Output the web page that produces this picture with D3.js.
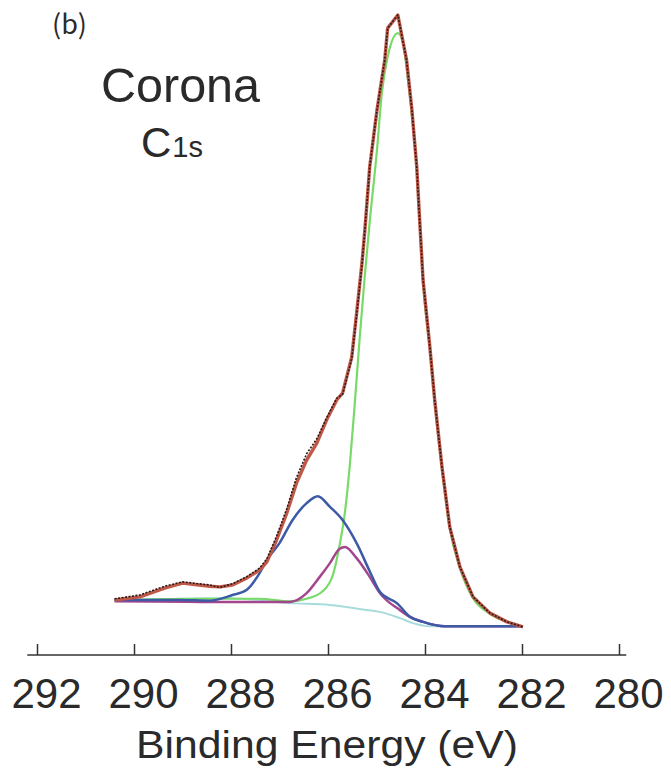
<!DOCTYPE html>
<html lang="en">
	<head>
		<meta charset="utf-8">
		<title>Corona C1s</title>
		<script src="https://d3js.org/d3.v7.min.js"></script>
		<style>
			body { margin: 0; background: #fff; }
			text { font-family: "Liberation Sans", Arial, sans-serif; fill: #2a2a2a; }
		</style>
	</head>

	<body>

		<script>

// data (binding energy in eV, intensity in arbitrary units)

	var envE = [290.40, 289.88, 289.37, 289.00, 288.44, 288.23, 287.97, 287.68, 287.41, 287.26,
	            287.06, 286.85, 286.65, 286.44, 286.23, 286.03, 285.82, 285.70, 285.51, 285.41,
	            285.30, 285.24, 285.14, 284.99, 284.83, 284.77, 284.56, 284.38, 284.27, 284.17,
	            284.11, 284.04, 283.90, 283.80, 283.65, 283.49, 283.28, 283.01, 282.66, 282.31, 281.98];
	var envI = [64, 69, 83, 91, 86, 85, 88, 99, 112, 125,
	            160, 203, 251, 288, 315, 352, 384, 395, 453, 523,
	            603, 656, 757, 848, 928, 979, 1000, 928, 848, 757,
	            672, 576, 469, 384, 277, 181, 117, 69, 43, 29, 21];
	var rawI = [66, 72, 86, 93, 88, 84, 90, 101, 115, 130,
	            166, 210, 260, 298, 322, 355, 387, 393, 450, 520,
	            600, 656, 757, 848, 928, 979, 1000, 928, 848, 757,
	            672, 576, 469, 384, 277, 181, 117, 69, 43, 29, 21];

	var ccE = [290.40, 288.65, 287.41, 286.79, 286.44, 286.11, 285.90, 285.76, 285.65, 285.55,
	           285.45, 285.35, 285.24, 285.14, 284.99, 284.89, 284.77, 284.56, 284.45, 284.38,
	           284.27, 284.17, 284.11, 284.04, 283.90, 283.80, 283.65, 283.49, 283.28, 283.01,
	           282.66, 282.31, 281.98];
	var ccI = [64, 66, 66, 62, 66, 78, 104, 152, 205, 280,
	           376, 480, 584, 669, 784, 875, 933, 971, 955, 915,
	           840, 752, 668, 572, 466, 381, 275, 179, 115, 67,
	           42, 29, 21];

	var coE = [290.40, 289.06, 288.44, 287.97, 287.68, 287.41, 287.26, 287.00, 286.73, 286.44,
	           286.21, 285.96, 285.70, 285.41, 285.14, 284.93, 284.58, 284.31, 284.04, 283.59, 281.98];
	var coI = [64, 64, 63, 72, 80, 107, 128, 155, 192, 219,
	           230, 213, 192, 155, 110, 77, 59, 37, 29, 22, 22];

	var cooE = [290.40, 288.65, 286.79, 286.44, 286.17, 285.96, 285.76, 285.65, 285.41, 285.14,
	            284.93, 284.52, 284.31, 284.04, 283.59, 281.98];
	var cooI = [62, 61, 61, 75, 101, 123, 146, 149, 131, 101,
	            75, 48, 37, 29, 22, 22];

	var bgE = [290.40, 288.03, 286.79, 285.96, 285.20, 284.93, 284.52, 284.25, 283.90, 283.60];
	var bgI = [64, 67, 59, 56, 48, 45, 35, 27, 22, 22];

	var xTicks = [292, 290, 288, 286, 284, 282, 280];

	var w = 671
	var h = 771
	var svg = d3.select("body")
		.append("svg")
			.attr("width", w)
			.attr("height", h);

	var xScale = d3.scaleLinear()
				   .domain([292, 280])
				   .range([37, 619]);

	var yScale = d3.scaleLinear()
				   .domain([0, 1000])
				   .range([640, 15]);

	function pairs(es, is) {
		return es.map((e, i) => [e, is[i]]);
	}

	var smooth = d3.line()
		.x(d => xScale(d[0]))
		.y(d => yScale(d[1]))
		.curve(d3.curveMonotoneX);

	var straight = d3.line()
		.x(d => xScale(d[0]))
		.y(d => yScale(d[1]));

// fitted components first, envelope and measured data on top

	var series = [
		{ pts: pairs(bgE, bgI),   line: smooth,   color: "#a8dcdc", width: 2 },
		{ pts: pairs(ccE, ccI),   line: smooth,   color: "#78da68", width: 2.2 },
		{ pts: pairs(cooE, cooI), line: smooth,   color: "#a2468e", width: 2.5 },
		{ pts: pairs(coE, coI),   line: smooth,   color: "#3c5aa6", width: 2.5 },
		{ pts: pairs(envE, envI), line: straight, color: "#c05848", width: 3.4 },
		{ pts: pairs(envE, rawI), line: straight, color: "#2a1a1a", width: 1.6, dash: "2,1.5" }
	];

	svg.selectAll("path.curve")
		.data(series)
		.enter()
		.append("path")
		.attr("class", "curve")
		.attr("d", d => d.line(d.pts))
		.attr("fill", "none")
		.attr("stroke", d => d.color)
		.attr("stroke-width", d => d.width)
		.attr("stroke-dasharray", d => d.dash || null)
		.attr("stroke-linejoin", "round");

// axis

	var axisG = svg.append("g")
		.attr("transform", "translate(0,655)")
		.call(d3.axisBottom(xScale)
			.tickValues(xTicks)
			.tickSizeInner(-11)
			.tickSizeOuter(0)
			.tickPadding(23)
			.tickFormat(d3.format("d")));

	axisG.select(".domain").remove();
	axisG.append("line")
		.attr("x1", xScale(292.2))
		.attr("x2", xScale(279.85))
		.attr("stroke", "#333")
		.attr("stroke-width", 1.5);
	axisG.selectAll(".tick line")
		.attr("stroke", "#333")
		.attr("stroke-width", 1.5);
	axisG.selectAll(".tick text")
		.attr("font-family", "Liberation Sans, Arial, sans-serif")
		.attr("font-size", 42)
		.attr("dx", 9)
		.attr("fill", "#262626");

	svg.append("text")
		.attr("x", 327)
		.attr("y", 758)
		.attr("text-anchor", "middle")
		.attr("font-size", 38)
		.attr("textLength", 382)
		.attr("lengthAdjust", "spacingAndGlyphs")
		.text("Binding Energy (eV)");

// labels

	svg.append("text")
		.attr("x", 52)
		.attr("y", 34)
		.attr("font-size", 27)
		.style("font-family", "'Noto Sans CJK JP', sans-serif")
		.text("(b)");

	svg.append("text")
		.attr("x", 101)
		.attr("y", 102)
		.attr("font-size", 48.5)
		.text("Corona");

	var c1s = svg.append("text")
		.attr("x", 141)
		.attr("y", 157)
		.attr("font-size", 42);
	c1s.append("tspan").text("C");
	c1s.append("tspan").attr("font-size", 29).attr("dx", 1).text("1s");

		</script>

	</body>

</html>
